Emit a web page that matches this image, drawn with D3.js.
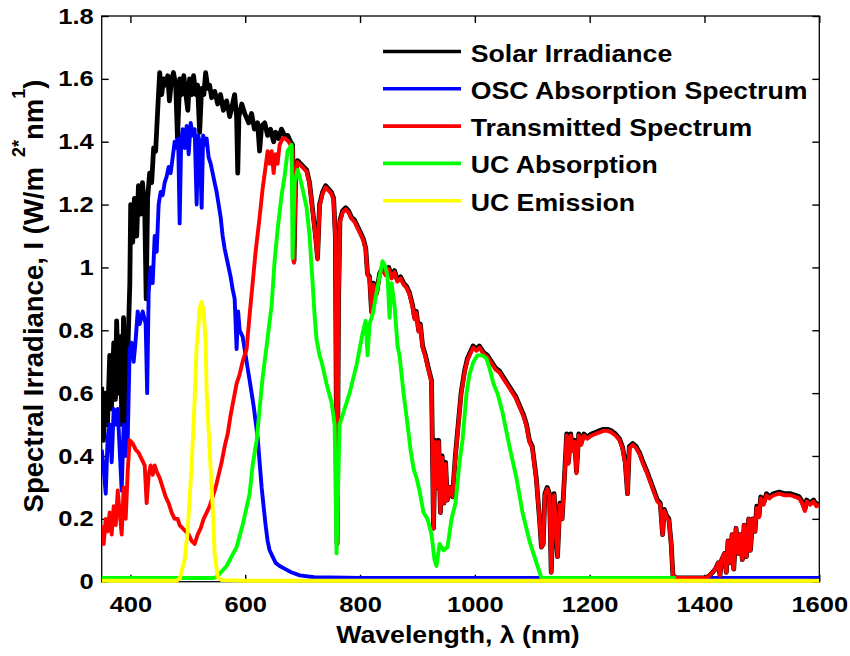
<!DOCTYPE html>
<html><head><meta charset="utf-8">
<script src="https://cdn.jsdelivr.net/npm/d3@7"></script>
<style>
body{margin:0;background:#fff}
text{font-family:"Liberation Sans",Arial,Helvetica,sans-serif;font-weight:bold;fill:#000}
</style>
</head><body>
<svg id="c" width="850" height="656"></svg>
<script>
// ---------------- DATA ----------------
const seriesNames = ["Solar Irradiance","OSC Absorption Spectrum","Transmitted Spectrum","UC Absorption","UC Emission"];
const seriesColors = ["#000000","#0000ff","#ff0000","#00ff00","#ffff00"];

const xTickValues = [400,600,800,1000,1200,1400,1600];
const xTickLabels = ["400","600","800","1000","1200","1400","1600"];
const yTickValues = [0,0.2,0.4,0.6,0.8,1,1.2,1.4,1.6,1.8];
const yTickLabels = ["0","0.2","0.4","0.6","0.8","1","1.2","1.4","1.6","1.8"];

// Solar irradiance, visible part
const solarVisWl = [350,353,357,360,364,367,371,374,376,380,383,385,388,392,395,399,400.5,404,407,411,414,418,421,425,427.5,430,433.5,437,440.5,444,447.5,451,454.5,458,461,465,468,472,475,479,482,486,489,493,496,500,503,507,510,514,517,520.6,524,528,531,535,538,541.5,547,552,557,562,567.6,573,578,581.5,585,587,589,594,599,606,611,616,621.6,625,628.6,634,639,644,649.5,653,658,663,668.6,674,679,682.5];
const solarVis   = [0.62,0.45,0.6,0.5,0.72,0.55,0.76,0.58,0.83,0.6,0.78,0.5,0.84,0.45,0.7,0.95,1.2,1.08,1.22,1.1,1.26,1.17,1.27,1.18,0.9,1.22,1.3,1.27,1.38,1.37,1.5,1.62,1.55,1.6,1.58,1.61,1.53,1.6,1.62,1.58,1.41,1.6,1.55,1.61,1.56,1.5,1.6,1.55,1.61,1.55,1.58,1.43,1.57,1.55,1.62,1.57,1.58,1.54,1.56,1.52,1.55,1.5,1.53,1.48,1.52,1.55,1.48,1.3,1.48,1.52,1.49,1.46,1.49,1.44,1.46,1.37,1.45,1.46,1.42,1.44,1.4,1.43,1.41,1.44,1.42,1.42,1.4,1.39];

// Near-infrared wavelengths (solar and transmitted coincide here)
const nirWl = [685,688,691,696.5,701.7,707,712,717,722.6,726,729.5,734.8,740,745,750,754,757,760,762.6,765,769.6,775,780,785,790.5,795.7,801,806,810,813,816.6,820,823.6,829,834,839,844.5,850,855,860,865,870.6,876,881,886,891.5,895,898,902,905,909,914,919,924.5,928,931,934,937,940,943,946,949,952,956,961,966,971,976,982,987,992,997,1003,1008,1015,1022,1029,1036,1043,1050,1057,1064,1071,1078,1085,1090,1095,1100,1107,1113,1116,1119,1122,1126,1130,1133,1138,1144,1148,1152,1156,1160,1163,1167,1170,1174,1177,1181,1185,1190,1196,1203,1210,1217,1224,1231,1238,1245,1252,1257,1262,1266,1269,1275,1281,1287,1293,1300,1306,1312,1318,1323,1327,1330,1334,1338,1342,1345,1350,1403,1409,1414,1419,1424,1427,1430,1435,1438,1441,1445,1448,1451,1455,1459,1462,1466,1469,1473,1477,1480,1484,1488,1491,1495,1498,1503,1508,1513,1520,1530,1540,1550,1558,1565,1570,1575,1578,1584,1590,1595,1600];
const solarNir = [1.02,1.3,1.34,1.33,1.32,1.31,1.27,1.19,1.1,1.03,1.2,1.24,1.26,1.25,1.24,1.22,1.1,0.12,0.9,1.15,1.18,1.19,1.18,1.16,1.15,1.13,1.11,1.09,1.06,0.98,0.97,0.86,0.95,0.92,0.98,1.0,0.98,1.0,0.97,0.99,0.96,0.97,0.95,0.94,0.92,0.88,0.84,0.86,0.8,0.82,0.75,0.72,0.68,0.64,0.17,0.45,0.3,0.45,0.22,0.4,0.25,0.38,0.26,0.3,0.27,0.4,0.5,0.6,0.67,0.71,0.73,0.75,0.74,0.75,0.73,0.72,0.7,0.68,0.67,0.65,0.63,0.61,0.59,0.56,0.53,0.5,0.45,0.43,0.33,0.19,0.11,0.12,0.28,0.3,0.28,0.03,0.28,0.08,0.25,0.2,0.33,0.47,0.38,0.47,0.42,0.45,0.35,0.47,0.44,0.47,0.46,0.47,0.475,0.48,0.485,0.485,0.48,0.47,0.455,0.43,0.38,0.28,0.43,0.44,0.43,0.41,0.38,0.35,0.32,0.29,0.26,0.25,0.15,0.23,0.21,0.2,0.12,0.02,0.012,0.012,0.02,0.03,0.04,0.06,0.02,0.07,0.09,0.03,0.13,0.06,0.15,0.04,0.17,0.09,0.15,0.07,0.18,0.08,0.2,0.1,0.2,0.16,0.24,0.21,0.27,0.25,0.28,0.27,0.28,0.285,0.28,0.28,0.275,0.27,0.255,0.23,0.26,0.25,0.26,0.245,0.25];
const transNir = [1.015,1.295,1.335,1.325,1.315,1.305,1.265,1.185,1.095,1.025,1.195,1.235,1.255,1.245,1.235,1.215,1.095,0.12,0.895,1.145,1.175,1.185,1.175,1.155,1.145,1.125,1.105,1.085,1.055,0.975,0.965,0.855,0.945,0.915,0.975,0.995,0.975,0.995,0.965,0.985,0.955,0.965,0.945,0.935,0.915,0.875,0.835,0.855,0.795,0.815,0.745,0.715,0.675,0.635,0.17,0.445,0.3,0.445,0.22,0.395,0.25,0.375,0.26,0.3,0.27,0.395,0.495,0.595,0.665,0.705,0.725,0.745,0.735,0.745,0.725,0.715,0.695,0.675,0.665,0.645,0.625,0.605,0.585,0.555,0.525,0.495,0.445,0.425,0.325,0.19,0.11,0.12,0.275,0.295,0.275,0.03,0.275,0.08,0.245,0.2,0.325,0.465,0.375,0.465,0.415,0.445,0.345,0.465,0.435,0.465,0.455,0.465,0.47,0.475,0.48,0.48,0.475,0.465,0.45,0.425,0.375,0.28,0.425,0.435,0.425,0.405,0.375,0.345,0.315,0.285,0.255,0.245,0.15,0.225,0.205,0.195,0.12,0.02,0.012,0.012,0.02,0.03,0.04,0.06,0.02,0.07,0.09,0.03,0.13,0.06,0.15,0.04,0.17,0.09,0.15,0.07,0.18,0.08,0.2,0.1,0.2,0.16,0.235,0.205,0.265,0.245,0.275,0.265,0.275,0.28,0.275,0.275,0.27,0.265,0.25,0.225,0.255,0.245,0.255,0.24,0.245];

// Transmitted spectrum, visible part
const transVisWl = [350,353.5,357,360.4,363.9,367.4,370.9,374.4,377.9,381.3,384.8,388.3,391.8,395.3,398.7,404,409.2,414.4,419.6,424.9,428.3,431.8,435.3,438.8,442.3,445.8,451,456.2,461.4,466.6,471.9,477.1,482.3,485.8,491,496.2,501.5,506.7,511.9,517.1,522.4,527.6,532.8,538,543.3,548.5,553.7,558.9,564.1,569.4,574.6,579.8,585,590.3,595.5,602.4,607.7,612.9,618.1,625.1,630.3,635.5,639,642.5,646,649.5,652.9,656.4,659.9,665.1,670.3,675.6,679,682.5];
const transVis   = [0.18,0.12,0.2,0.16,0.22,0.15,0.24,0.18,0.29,0.22,0.15,0.3,0.2,0.35,0.45,0.44,0.42,0.41,0.39,0.37,0.25,0.34,0.37,0.34,0.37,0.35,0.33,0.3,0.27,0.25,0.22,0.2,0.2,0.18,0.17,0.16,0.15,0.13,0.12,0.15,0.17,0.2,0.22,0.24,0.27,0.3,0.34,0.38,0.43,0.47,0.53,0.58,0.63,0.66,0.7,0.74,0.85,0.95,1.05,1.16,1.25,1.32,1.37,1.33,1.37,1.3,1.36,1.33,1.39,1.41,1.41,1.4,1.39,1.38];

// OSC absorption spectrum
const oscWl = [350,353.5,357,360.4,363.9,367.4,370.9,374.4,377.9,381.3,384.8,388.3,391.8,395.3,398.7,402.2,405.7,409.2,412.7,416.2,421.4,426.6,429.2,431.8,435.3,438.8,442.3,445.8,449.2,452.7,456.2,459.7,463.2,466.6,470.1,473.6,477.1,480.6,483.2,485.8,488.4,491,494.5,498,501.5,505,508.4,511.9,515.4,518,520.6,524.1,526.7,529.3,532.8,536.3,539.8,543.3,546.7,550.2,553.7,557.2,560.7,564.1,567.6,571.1,574.6,578.1,581.6,585,587.6,590.3,595.5,600.7,604.2,607.7,611.2,614.6,618.1,621.6,625.1,628.6,632,635.5,639,642.5,647.7,653,660,670,680,695,720,800,1600];
const osc   = [0.42,0.36,0.28,0.46,0.5,0.38,0.55,0.5,0.55,0.42,0.29,0.5,0.4,0.45,0.74,0.76,0.7,0.77,0.86,0.82,0.86,0.82,0.6,0.92,1.0,0.95,1.1,1.05,1.2,1.24,1.23,1.27,1.29,1.32,1.3,1.35,1.4,1.38,1.41,1.14,1.4,1.44,1.38,1.45,1.36,1.46,1.42,1.44,1.2,1.42,1.4,1.19,1.42,1.39,1.41,1.35,1.33,1.3,1.27,1.24,1.2,1.16,1.1,1.06,1.03,1.0,0.97,0.93,0.9,0.74,0.86,0.8,0.78,0.72,0.68,0.64,0.6,0.56,0.51,0.46,0.38,0.3,0.24,0.18,0.13,0.1,0.08,0.06,0.05,0.04,0.03,0.02,0.014,0.012,0.012];

// UC absorption
const ucAbsWl = [350,545,550.2,567.6,585,595.5,607.7,612.9,619.9,625.1,630.3,637.3,646,651.2,656.4,663.4,668.6,673.8,680.8,682.5,686,691.2,694.7,699.9,706.9,712.1,717.4,720.8,724.3,729.5,733,741.7,750.4,755.7,759.1,764.4,773.1,781.8,794,804.4,809.6,813.1,816.6,821.8,828.8,834,839.2,844.4,848,851.4,854.9,860.1,865.3,868.8,875.8,882.7,888,893.2,898.4,903.6,910.6,917.6,924.5,929.7,933.2,938.5,945.4,952.4,959.4,966.3,973.3,978.5,985.5,990.7,997.6,1004.6,1013.3,1020.3,1025.5,1032.5,1039.4,1048.1,1060.3,1072.5,1083,1095.1,1107.3,1116,1350];
const ucAbs   = [0.012,0.012,0.015,0.05,0.11,0.18,0.28,0.37,0.45,0.55,0.65,0.75,0.88,1.02,1.12,1.23,1.29,1.37,1.39,1.03,1.27,1.31,1.29,1.25,1.19,1.1,0.95,0.85,0.77,0.72,0.7,0.63,0.57,0.5,0.09,0.5,0.55,0.6,0.69,0.79,0.83,0.72,0.82,0.85,0.92,0.97,1.02,1.0,0.97,0.84,0.95,0.88,0.75,0.72,0.6,0.5,0.42,0.36,0.33,0.29,0.22,0.2,0.15,0.07,0.05,0.12,0.1,0.11,0.2,0.25,0.38,0.45,0.6,0.66,0.7,0.72,0.72,0.71,0.68,0.63,0.6,0.54,0.43,0.33,0.22,0.13,0.06,0.012,0.012];

// UC emission
const ucEmWl = [350,480,486,494.5,499.7,506.7,511.9,515.4,517.1,520.6,524.1,527.6,531.1,532.8,538,543.3,546.7,552,559,600,1600];
const ucEm   = [0.003,0.003,0.01,0.07,0.16,0.37,0.58,0.75,0.78,0.87,0.89,0.86,0.76,0.6,0.42,0.24,0.09,0.015,0.005,0.003,0.003];

// ---------------- CHART ----------------
const W = 850, H = 656;
const plot = {l:101.7, r:819.3, t:16, b:581.7};
const x = d3.scaleLinear().domain([350,1600]).range([plot.l, plot.r]);
const y = d3.scaleLinear().domain([0,1.8]).range([plot.b, plot.t]);
const SX = 1.16; // horizontal glyph stretch of the reference

const svg = d3.select("#c");
svg.append("rect").attr("width",W).attr("height",H).attr("fill","#fff");

const zip = (a,b) => a.map((v,i)=>[v,b[i]]);
const data = [
  zip(solarVisWl.concat(nirWl), solarVis.concat(solarNir)),
  zip(oscWl, osc),
  zip(transVisWl.concat(nirWl), transVis.concat(transNir)),
  zip(ucAbsWl, ucAbs),
  zip(ucEmWl, ucEm)
];
const widths = [4.8,3.9,3.9,3.9,3.9];

// axes (drawn below the data, like MATLAB's default layer)
const gx = svg.append("g").attr("transform",`translate(0,${plot.b})`)
  .call(d3.axisBottom(x).tickValues(xTickValues).tickFormat((d,i)=>xTickLabels[i]).tickSizeInner(-7).tickSizeOuter(0).tickPadding(15));
const gy = svg.append("g").attr("transform",`translate(${plot.l},0)`)
  .call(d3.axisLeft(y).tickValues(yTickValues).tickFormat((d,i)=>yTickLabels[i]).tickSizeInner(-7).tickSizeOuter(0).tickPadding(6.9));
const gt = svg.append("g").attr("transform",`translate(0,${plot.t})`)
  .call(d3.axisTop(x).tickValues(xTickValues).tickFormat("").tickSizeInner(-7).tickSizeOuter(0));
const gr = svg.append("g").attr("transform",`translate(${plot.r},0)`)
  .call(d3.axisRight(y).tickValues(yTickValues).tickFormat("").tickSizeInner(-7).tickSizeOuter(0));
[gx,gy,gt,gr].forEach(g=>{
  g.select(".domain").remove();
  g.selectAll("line").attr("stroke","#000").attr("stroke-width",1.4);
});
[gx,gy].forEach(g=>g.selectAll("text")
  .attr("font-size",22).attr("font-family","Liberation Sans, Arial, sans-serif")
  .attr("font-weight","bold").attr("fill","#000")
  .attr("transform",`scale(${SX},1)`));

svg.append("rect").attr("x",plot.l).attr("y",plot.t)
  .attr("width",plot.r-plot.l).attr("height",plot.b-plot.t)
  .attr("fill","none").attr("stroke","#000").attr("stroke-width",1.3);

// data lines
svg.append("clipPath").attr("id","clip").append("rect")
  .attr("x",plot.l).attr("y",plot.t-3).attr("width",plot.r-plot.l).attr("height",plot.b-plot.t+6);
const line = d3.line().x(d=>x(d[0])).y(d=>y(d[1]));
const gl = svg.append("g").attr("clip-path","url(#clip)");
data.forEach((d,i)=>{
  gl.append("path").datum(d).attr("d",line)
    .attr("fill","none").attr("stroke",seriesColors[i]).attr("stroke-width",widths[i])
    .attr("stroke-linejoin","round").attr("stroke-linecap","butt");
});

// legend
const leg = svg.append("g");
seriesNames.forEach((name,i)=>{
  const cy = 51.5 + 37.3*i;
  leg.append("line").attr("x1",383).attr("x2",461).attr("y1",cy).attr("y2",cy)
    .attr("stroke",seriesColors[i]).attr("stroke-width",3.6);
  leg.append("text").attr("transform",`translate(470.7,${cy+10}) scale(${SX},1)`)
    .attr("font-size",23).text(name);
});

// axis titles
svg.append("text").attr("transform",`translate(458,643) scale(${SX},1)`)
  .attr("text-anchor","middle").attr("font-size",23).text("Wavelength, λ (nm)");

const yt = svg.append("text").attr("transform","translate(43,296) rotate(-90)")
  .attr("text-anchor","middle").attr("font-size",27.5);
yt.append("tspan").text("Spectral Irradiance, I (W/m");
yt.append("tspan").attr("dx",10).attr("dy",-18).attr("font-size",18).text("2*");
yt.append("tspan").attr("dy",18).attr("font-size",27.5).text("nm");
yt.append("tspan").attr("dy",-18).attr("font-size",18).text("1");
yt.append("tspan").attr("dy",18).attr("font-size",27.5).text(")");
</script>
</body></html>
